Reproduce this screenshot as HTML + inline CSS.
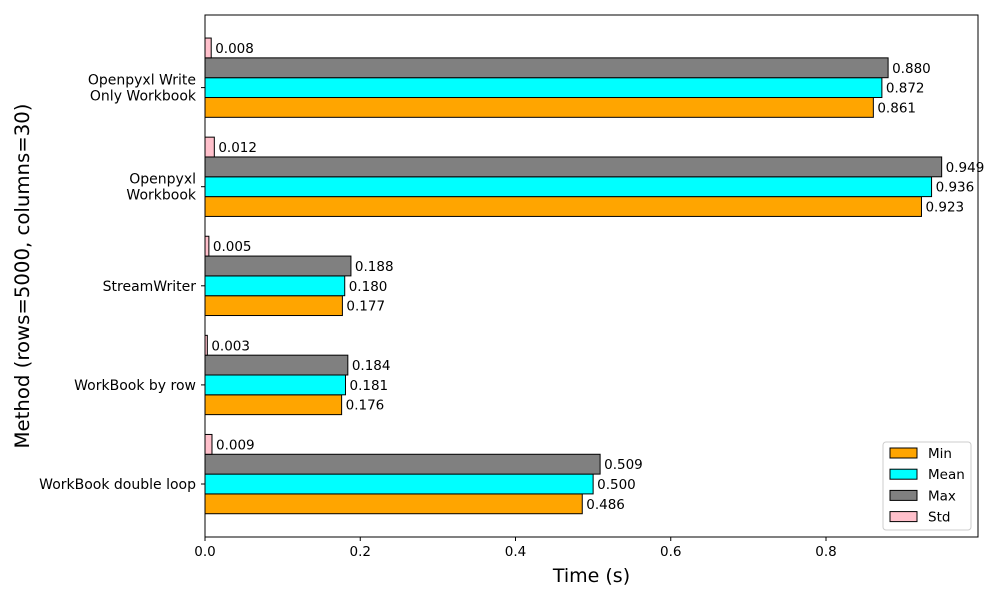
<!DOCTYPE html>
<html><head><meta charset="utf-8"><style>
body{margin:0;background:#fff;}
svg{font-family:"DejaVu Sans","Liberation Sans",sans-serif;}
</style></head><body>
<svg id="chart" width="1000" height="600"></svg>
<script>
const categories=["WorkBook double loop","WorkBook by row","StreamWriter","Openpyxl Workbook","Openpyxl Write Only Workbook"];
const catLines=[["WorkBook double loop"],["WorkBook by row"],["StreamWriter"],["Openpyxl","Workbook"],["Openpyxl Write","Only Workbook"]];
const minVals=[0.486,0.176,0.177,0.923,0.861];
const meanVals=[0.500,0.181,0.180,0.936,0.872];
const maxVals=[0.509,0.184,0.188,0.949,0.880];
const stdVals=[0.009,0.003,0.005,0.012,0.008];
const xTicks=[0,0.2,0.4,0.6,0.8];
const xTickLabels=["0.0","0.2","0.4","0.6","0.8"];
const seriesNames=["Min","Mean","Max","Std"];

const NS="http://www.w3.org/2000/svg";
const svg=document.getElementById('chart');
const L=205,R=978,T=15,B=537;
const xs=v=>L+v*776.25;
const step=99.1;
const ys=i=>484-i*step;
function el(t,a,p){const e=document.createElementNS(NS,t);for(const k in a)e.setAttribute(k,a[k]);(p||svg).appendChild(e);return e;}
const series=[{vals:minVals,color:"#ffa500",off:1},{vals:meanVals,color:"#00ffff",off:0},{vals:maxVals,color:"#808080",off:-1},{vals:stdVals,color:"#ffc0cb",off:-2}];
const bh=step*0.2;
series.forEach((s,si)=>{
  s.vals.forEach((v,i)=>{
    const cy=ys(i)+s.off*bh;
    const r=el('rect',{x:L,y:cy-bh/2,width:xs(v)-L,height:bh,fill:s.color,stroke:"#000","stroke-width":1});
    
    
    const t=el('text',{x:xs(v)+4,y:cy+5,"font-size":13.5});
    t.textContent=v.toFixed(3);
    
    
  });
});
const frame=el('rect',{x:L,y:T,width:R-L,height:B-T,fill:"none",stroke:"#000","stroke-width":1});


xTicks.forEach((v,i)=>{
  el('line',{x1:xs(v),x2:xs(v),y1:B,y2:B+4,stroke:"#000"});
  const t=el('text',{x:xs(v),y:B+19,"font-size":13.5,"text-anchor":"middle"});
  t.textContent=xTickLabels[i];
  
  
});
catLines.forEach((lines,i)=>{
  el('line',{x1:L-4,x2:L,y1:ys(i),y2:ys(i),stroke:"#000"});
  const n=lines.length;
  lines.forEach((ln,j)=>{
    const t=el('text',{x:L-9,y:ys(i)+5+(j-(n-1)/2)*16,"font-size":14,"text-anchor":"end"});
    t.textContent=ln;
    
    
  });
});
const xt=el('text',{x:(L+R)/2,y:582,"font-size":19,"text-anchor":"middle"});
xt.textContent="Time (s)";


const yt=el('text',{x:0,y:0,"font-size":19.7,"text-anchor":"middle",transform:"translate(29,276) rotate(-90)"});
yt.textContent="Method (rows=5000, columns=30)";


const lg=el('g',{});


el('rect',{x:883,y:442,width:88,height:88,rx:3,fill:"#fff",stroke:"#ccc"},lg);
series.forEach((s,i)=>{
  const y=453+i*21.2;
  el('rect',{x:890,y:y-5,width:27,height:10,fill:s.color,stroke:"#000"},lg);
  const t=el('text',{x:928,y:y+5,"font-size":13.5},lg);
  t.textContent=seriesNames[i];
  
  
});
</script>
</body></html>
